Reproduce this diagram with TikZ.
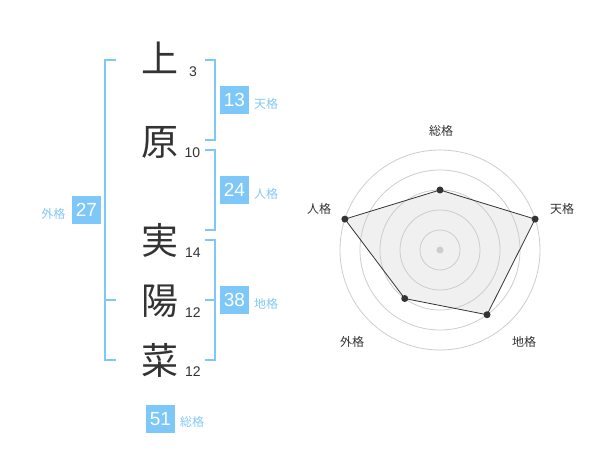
\documentclass[tikz,border=0pt]{standalone}
\usepackage{fontspec}
\newfontfamily\cjk{Noto Sans CJK JP}
\newfontfamily\digits{Liberation Sans}
\definecolor{kblue}{RGB}{125,200,248}
\definecolor{klabel}{RGB}{130,200,245}
\definecolor{kdark}{RGB}{51,51,51}
\definecolor{kring}{RGB}{205,205,205}
\definecolor{kfill}{RGB}{240,240,240}
\tikzset{
  kanji/.style={inner sep=0pt, text=kdark, font=\cjk\fontsize{37}{37}\selectfont, text height=28.1pt, text depth=0pt},
  stroke/.style={inner sep=0pt, text=kdark, font=\digits\fontsize{14}{14}\selectfont, text height=10pt, text depth=0pt},
  scorebox/.style={fill=kblue, text=white, minimum size=28.5pt, inner sep=0pt, font=\digits\fontsize{19}{19}\selectfont, text height=13.6pt, text depth=0pt},
  sublabel/.style={inner sep=0pt, text=klabel, font=\cjk\fontsize{12}{12}\selectfont, text height=9.1pt, text depth=0pt},
  radarlabel/.style={inner sep=0pt, text=kdark, font=\cjk\fontsize{12}{12}\selectfont, text height=9.1pt, text depth=0pt},
  bracket/.style={draw=kblue, line width=2pt},
  ring/.style={draw=kring, line width=0.8pt},
  vdot/.style={circle, fill=kdark, inner sep=0pt, minimum size=7pt},
}
\begin{document}
\begin{tikzpicture}[x=1pt,y=-1pt]
\useasboundingbox (0,0) rectangle (600,470);
% kanji
\node[kanji] (k1) at (160,58) {上};
\node[kanji] (k2) at (160,141) {原};
\node[kanji] (k3) at (160,240) {実};
\node[kanji] (k4) at (160,300) {陽};
\node[kanji] (k5) at (160,360) {菜};
% strokes
\node[stroke] (s1) at (193,72) {3};
\node[stroke] (s2) at (192.5,153) {10};
\node[stroke] (s3) at (193,253) {14};
\node[stroke] (s4) at (193,313) {12};
\node[stroke] (s5) at (193,372) {12};
% brackets
\draw[bracket] (116,60) -- (105,60) -- (105,360) -- (116,360);
\draw[bracket] (105,300) -- (116,300);
\draw[bracket] (205,60) -- (215,60) -- (215,140) -- (205,140);
\draw[bracket] (205,150) -- (215,150) -- (215,230) -- (205,230);
\draw[bracket] (205,240) -- (215,240) -- (215,360) -- (205,360);
\draw[bracket] (205,300) -- (215,300);
% score boxes
\node[scorebox] (b13) at (234.5,100) {13};
\node[sublabel] (l13) at (266,104) {天格};
\node[scorebox] (b24) at (234.5,190) {24};
\node[sublabel] (l24) at (266,194) {人格};
\node[scorebox] (b38) at (234.5,300) {38};
\node[sublabel] (l38) at (266,304) {地格};
\node[scorebox] (b27) at (86.5,210) {27};
\node[sublabel] (l27) at (53.5,214) {外格};
\node[scorebox] (b51) at (160.5,419) {51};
\node[sublabel] (l51) at (192,422) {総格};
% radar
\begin{scope}[shift={(440,250)}, y=1pt]
  \coordinate (c) at (0,0);
  \coordinate (p1) at (90:60);
  \coordinate (p2) at (18:100);
  \coordinate (p3) at (-54:80);
  \coordinate (p4) at (-126:60);
  \coordinate (p5) at (162:100);
  \fill[kfill] (p1) -- (p2) -- (p3) -- (p4) -- (p5) -- cycle;
  \foreach \r in {20,40,60,80,100} \draw[ring] (c) circle (\r);
  \fill[kring] (c) circle (3.5);
  \draw[kdark, line width=0.8pt] (p1) -- (p2) -- (p3) -- (p4) -- (p5) -- cycle;
  \foreach \p in {p1,p2,p3,p4,p5} \node[vdot] at (\p) {};
\end{scope}
\node[radarlabel] (r1) at (441,131) {総格};
\node[radarlabel] (r2) at (562,209) {天格};
\node[radarlabel] (r3) at (524,342) {地格};
\node[radarlabel] (r4) at (352,342) {外格};
\node[radarlabel] (r5) at (319,209) {人格};
\end{tikzpicture}
\end{document}
